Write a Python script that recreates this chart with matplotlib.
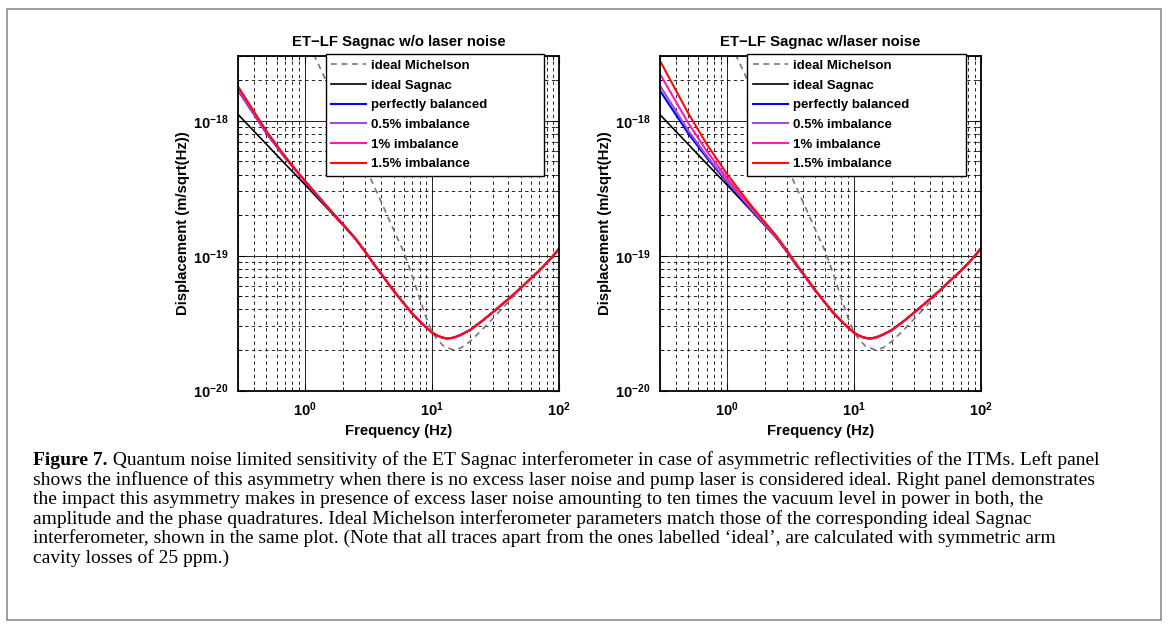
import matplotlib
matplotlib.use("Agg")
import matplotlib.pyplot as plt
from matplotlib.patches import Rectangle
from matplotlib.text import Annotation
from matplotlib.ticker import NullFormatter
import numpy as np

plt.rcParams['font.family'] = ['Liberation Sans', 'DejaVu Sans']
plt.rcParams['font.weight'] = 'bold'
plt.rcParams['axes.titleweight'] = 'bold'
plt.rcParams['axes.labelweight'] = 'bold'

# frequencies (Hz) and displacement values in units of 1e-20 m/sqrt(Hz)
freq = [0.3, 0.5, 0.7, 1, 1.5, 2, 2.5, 3, 3.5, 4, 5, 6, 7, 8, 9, 10, 11, 12, 13, 14,
        15, 17, 20, 25, 30, 40, 50, 60, 70, 80, 90, 100]
ideal_sagnac = [111, 67, 48, 33.8, 22.5, 16.8, 13.3, 10.6, 8.6, 7.3, 5.5, 4.45, 3.73, 3.28,
                2.95, 2.70, 2.56, 2.48, 2.44, 2.45, 2.48, 2.6, 2.82, 3.3, 3.8, 4.78, 5.76,
                6.8, 7.75, 8.85, 10.0, 11.3]

mich_freq = [1.0, 1.2, 1.5, 2, 2.5, 3, 4, 5, 6, 7, 8, 9, 10, 11, 12.5, 15, 17, 20, 25, 30,
             40, 50, 60, 70, 80, 100]
ideal_michelson = [430, 300, 190, 105, 66, 45.5, 25, 15.6, 10.7, 7.1, 4.85, 3.5, 2.75, 2.4,
                   2.12, 2.0, 2.08, 2.32, 2.85, 3.41, 4.55, 5.75, 6.75, 7.75, 8.8, 11.1]

# low-frequency part of the lossy traces; above that they sit on the ideal Sagnac curve
balanced = [167.2, 80.7, 53.2, 35.6, 23.0, 17.03, 13.42, 10.67, 8.65, 7.33]
imb05_quiet = [168.7, 81.1, 53.4, 35.7, 23.07, 17.04, 13.43, 10.67, 8.65, 7.33]
imb1_quiet = [174.0, 82.5, 53.9, 35.9, 23.13, 17.07, 13.44, 10.68, 8.65, 7.33]
imb15_quiet = [178.7, 83.8, 54.5, 36.1, 23.19, 17.09, 13.45, 10.69, 8.66, 7.33]
imb05_noisy = [182, 84.7, 54.8, 36.2, 23.23, 17.11, 13.46, 10.70, 8.66, 7.34]
imb1_noisy = [222, 96.3, 59.6, 38.0, 23.78, 17.35, 13.58, 10.77, 8.71, 7.38, 5.53]
imb15_noisy = [278, 113.7, 67.0, 40.8, 24.7, 17.75, 13.8, 10.9, 8.8, 7.44, 5.57]

x_ticks = [1, 10, 100]
y_ticks = [1e-20, 1e-19, 1e-18]
titles = ['ET\u2212LF Sagnac w/o laser noise', 'ET\u2212LF Sagnac w/laser noise']
labels = ['ideal Michelson', 'ideal Sagnac', 'perfectly balanced', '0.5% imbalance',
          '1% imbalance', '1.5% imbalance']
colors = ['#0000f0', '#9b4fd9', '#ff1ab4', '#ff0a0a']

caption = [
    ' Quantum noise limited sensitivity of the ET Sagnac interferometer in case of asymmetric reflectivities of the ITMs. Left panel',
    'shows the influence of this asymmetry when there is no excess laser noise and pump laser is considered ideal. Right panel demonstrates',
    'the impact this asymmetry makes in presence of excess laser noise amounting to ten times the vacuum level in power in both, the',
    'amplitude and the phase quadratures. Ideal Michelson interferometer parameters match those of the corresponding ideal Sagnac',
    'interferometer, shown in the same plot. (Note that all traces apart from the ones labelled \u2018ideal\u2019, are calculated with symmetric arm',
    'cavity losses of 25 ppm.)',
]


def full(low):
    return np.array(low + ideal_sagnac[len(low):]) * 1e-20


fig = plt.figure(figsize=(11.68, 6.28), dpi=100)
fig.add_artist(Rectangle((6.5 / 1168, 8 / 628), 1154.5 / 1168, 611 / 628,
                         transform=fig.transFigure, fill=False, ec='#8c8c8c', lw=1.2))

panels = [
    (0.2040, [balanced, imb05_quiet, imb1_quiet, imb15_quiet]),
    (0.5651, [balanced, imb05_noisy, imb1_noisy, imb15_noisy]),
]

for i, (left, traces) in enumerate(panels):
    ax = fig.add_axes([left, 0.3779, 0.2746, 0.5322])
    ax.loglog(mich_freq, np.array(ideal_michelson) * 1e-20, color='#777777', lw=1.2,
              dashes=(3.5, 2.8), label=labels[0])
    ax.loglog(freq, np.array(ideal_sagnac) * 1e-20, color='k', lw=1.2, label=labels[1])
    for tr, c, lab in zip(traces, colors, labels[2:]):
        ax.loglog(freq, full(tr), color=c, lw=1.5, label=lab)

    ax.set_xticks(x_ticks)
    ax.set_yticks(y_ticks)
    ax.set_xlim(0.3, 100)
    ax.set_ylim(1e-20, 3e-18)
    ax.grid(which='major', color='#222222', ls='-', lw=0.7)
    ax.grid(which='minor', color='k', ls=(0, (4, 4)), lw=0.6)
    ax.xaxis.set_minor_formatter(NullFormatter())
    ax.yaxis.set_minor_formatter(NullFormatter())
    ax.tick_params(which='both', direction='in', top=True, right=True, labelsize=10.5)
    ax.tick_params(which='major', length=5, width=0.8, pad=7)
    ax.tick_params(which='minor', length=3, width=0.6, labelleft=False, labelbottom=False)
    for sp in ax.spines.values():
        sp.set_linewidth(1.3)

    ax.set_title(titles[i], fontsize=10.7, pad=7.2)
    ax.set_xlabel('Frequency (Hz)', fontsize=10.7)
    ax.set_ylabel('Displacement (m/sqrt(Hz))', fontsize=10.7)
    ax.xaxis.set_label_coords(0.5, -0.100)
    ax.yaxis.set_label_coords(-0.15, 0.5)

    leg = ax.legend(loc='upper left', bbox_to_anchor=(0.2725, 0.5, 0.6816, 0.5066),
                    mode='expand', borderaxespad=0,
                    fontsize=9.5, handlelength=2.65, handletextpad=0.4, labelspacing=0.56,
                    borderpad=0.42, fancybox=False, framealpha=1, edgecolor='k')
    leg.get_frame().set_linewidth(1.0)

# caption, one text per printed line
cap_font = ['Liberation Serif', 'DejaVu Serif']
cap_size = 14.0
first = fig.text(33 / 1168, 1 - 465 / 628, 'Figure 7.', fontsize=cap_size, family=cap_font,
                 weight='bold', va='baseline')
fig.add_artist(Annotation(
    caption[0], xy=(1, 0), xycoords=first, xytext=(0, 0), textcoords='offset points',
    fontsize=cap_size, family=cap_font, weight='normal', va='bottom'))
for k, line in enumerate(caption[1:], start=1):
    fig.text(33 / 1168, 1 - (465 + 19.6 * k) / 628, line, fontsize=cap_size,
             family=cap_font, weight='normal', va='baseline')

fig.savefig('out.png', dpi=100)
